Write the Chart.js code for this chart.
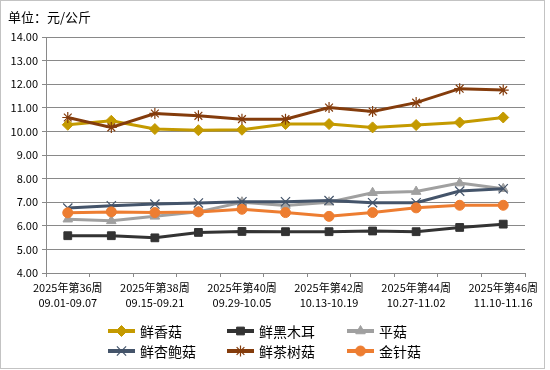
<!DOCTYPE html>
<html>
<head>
<meta charset="utf-8">
<script src="https://cdn.jsdelivr.net/npm/chart.js@4.4.1/dist/chart.umd.min.js"></script>
<style>
  html, body { margin: 0; padding: 0; background: #fff; }
  #wrap { position: relative; width: 550px; height: 370px; }
  #frame { position: absolute; left: 0; top: 0; width: 543px; height: 367px; border: 1px solid #c3c3c3; pointer-events: none; }
</style>
</head>
<body>
<div id="wrap">
  <canvas id="myChart" width="550" height="370"></canvas>
  <div id="frame"></div>
</div>
<script>
// categories
const weeks = ['2025年第36周', '2025年第37周', '2025年第38周', '2025年第39周', '2025年第40周', '2025年第41周',
  '2025年第42周', '2025年第43周', '2025年第44周', '2025年第45周', '2025年第46周'];
const dateRanges = ['09.01-09.07', '09.08-09.14', '09.15-09.21', '09.22-09.28', '09.29-10.05', '10.06-10.12',
  '10.13-10.19', '10.20-10.26', '10.27-11.02', '11.03-11.09', '11.10-11.16'];

// series (元/公斤)
const xiangGu = [10.28, 10.45, 10.10, 10.05, 10.07, 10.31, 10.31, 10.17, 10.27, 10.38, 10.59];
const heiMuEr = [5.58, 5.58, 5.49, 5.72, 5.76, 5.75, 5.75, 5.78, 5.75, 5.93, 6.07];
const pingGu = [6.28, 6.21, 6.40, 6.59, 7.00, 6.86, 7.00, 7.40, 7.45, 7.81, 7.57];
const xingBaoGu = [6.75, 6.85, 6.92, 6.97, 7.02, 7.02, 7.07, 6.98, 6.98, 7.47, 7.57];
const chaShuGu = [10.59, 10.17, 10.76, 10.66, 10.52, 10.52, 11.01, 10.84, 11.22, 11.81, 11.75];
const jinZhenGu = [6.55, 6.59, 6.56, 6.59, 6.70, 6.56, 6.40, 6.56, 6.76, 6.87, 6.87];

// y axis
const yMin = 4;
const yMax = 14;
const yStep = 1;

const unitTitle = '单位：元/公斤';

const labels = weeks.map((w, i) => [w, dateRanges[i]]);

const series = [
  { label: '鲜香菇', data: xiangGu, color: '#C49A00', style: 'rectRot', radius: 5.5, bw: 1 },
  { label: '鲜黑木耳', data: heiMuEr, color: '#333333', style: 'rect', radius: 5.5, bw: 1 },
  { label: '平菇', data: pingGu, color: '#A0A0A0', style: 'triangle', radius: 5.5, bw: 1 },
  { label: '鲜杏鲍菇', data: xingBaoGu, color: '#44546A', style: 'crossRot', radius: 6.5, bw: 1.2 },
  { label: '鲜茶树菇', data: chaShuGu, color: '#843C0C', style: 'star', radius: 5.5, bw: 1.2 },
  { label: '金针菇', data: jinZhenGu, color: '#ED7D31', style: 'circle', radius: 5, bw: 1 },
];

const datasets = series.map((s, idx) => ({
  label: s.label,
  data: s.data,
  borderColor: s.color,
  backgroundColor: s.color,
  borderWidth: 3,
  pointStyle: s.style,
  pointRadius: s.radius,
  pointBorderWidth: s.bw,
  pointBackgroundColor: s.color,
  pointBorderColor: s.color,
  tension: 0,
  order: series.length - idx,
}));

const gridColor = '#898989';
const cjkFont = '"Noto Sans CJK SC", "Noto Sans", sans-serif';

// title + two-row legend drawn on the canvas
const decorPlugin = {
  id: 'decor',
  afterDraw(chart) {
    const ctx = chart.ctx;
    ctx.save();
    ctx.fillStyle = '#000';
    ctx.font = '13px ' + cjkFont;
    ctx.textBaseline = 'middle';
    ctx.textAlign = 'left';
    ctx.fillText(unitTitle, 8, 17);

    const colX = [108, 227, 347];
    const rowY = [331, 351];
    ctx.font = '14px ' + cjkFont;
    series.forEach((s, i) => {
      const x = colX[i % 3];
      const y = rowY[Math.floor(i / 3)];
      ctx.strokeStyle = s.color;
      ctx.lineWidth = 4;
      ctx.beginPath();
      ctx.moveTo(x, y);
      ctx.lineTo(x + 27, y);
      ctx.stroke();
      ctx.fillStyle = s.color;
      ctx.lineWidth = s.bw;
      Chart.helpers.drawPoint(ctx, {
        pointStyle: s.style,
        radius: s.radius,
        borderWidth: s.bw,
        rotation: 0,
      }, x + 13.5, y);
      ctx.fillStyle = '#000';
      ctx.fillText(s.label, x + 32, y + 1);
    });
    ctx.restore();
  },
};

window.addEventListener('DOMContentLoaded', () => {
  const ctx = document.getElementById('myChart');
  const chart = new Chart(ctx, {
    type: 'line',
    data: { labels, datasets },
    plugins: [decorPlugin],
    options: {
      responsive: false,
      animation: false,
      layout: {
        autoPadding: false,
        padding: { top: 37, left: 0, right: 25, bottom: 52 },
      },
      plugins: {
        legend: { display: false },
        title: { display: false },
        tooltip: { enabled: false },
      },
      scales: {
        x: {
          type: 'category',
          offset: true,
          grid: {
            offset: true,
            drawOnChartArea: false,
            drawTicks: true,
            tickLength: 4,
            color: gridColor,
            tickColor: gridColor,
          },
          border: { color: gridColor, width: 1 },
          ticks: {
            autoSkip: false,
            maxRotation: 0,
            minRotation: 0,
            padding: 4,
            color: '#000',
            font: { family: cjkFont, size: 11, lineHeight: 1.3 },
            callback: function (value, index) {
              return index % 2 === 0 ? this.getLabelForValue(value) : '';
            },
          },
          afterFit: (scale) => { scale.height = 45; },
        },
        y: {
          min: yMin,
          max: yMax,
          grid: {
            color: gridColor,
            tickColor: gridColor,
            tickLength: 4,
            lineWidth: 1,
          },
          border: { color: gridColor, width: 1 },
          ticks: {
            stepSize: yStep,
            padding: 4,
            color: '#000',
            font: { family: cjkFont, size: 11 },
            callback: (v) => Number(v).toFixed(2),
          },
          afterFit: (scale) => { scale.width = 46; },
        },
      },
    },
  });
});
</script>
</body>
</html>
